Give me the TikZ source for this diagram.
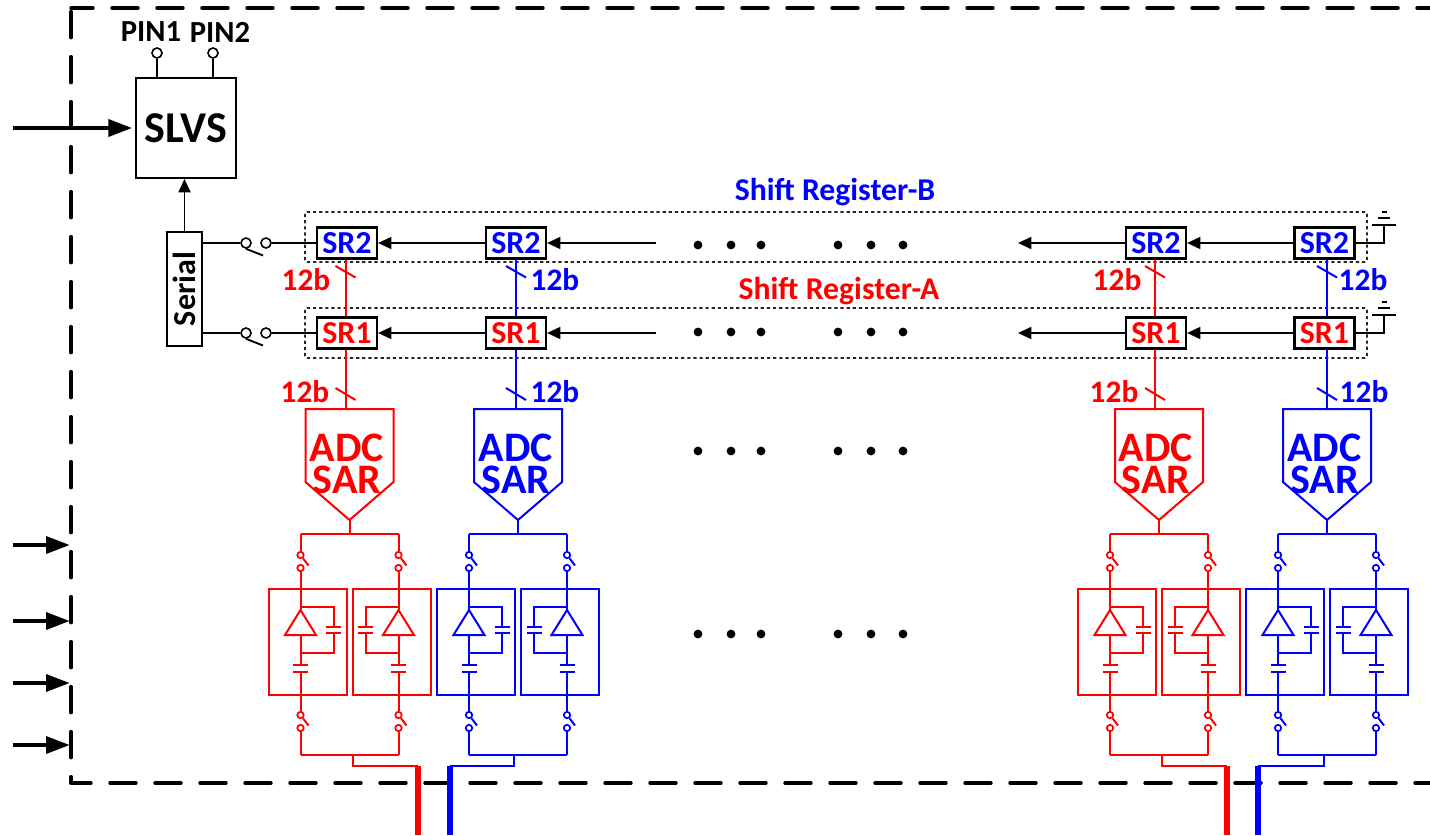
\documentclass[tikz,border=0pt]{standalone}
\usepackage{fontspec}
\setmainfont{Carlito}
\usetikzlibrary{arrows.meta,positioning,calc}
\tikzset{
  blockBox/.style={draw=black, line width=1.5pt, inner sep=0pt, align=center,
    font=\fontsize{33}{35}\selectfont\bfseries},
  srBox/.style={draw=black, line width=1.6pt, fill=white, inner sep=0pt,
    minimum width=45pt, minimum height=23.25pt,
    font=\fontsize{24}{26}\selectfont\bfseries},
  regFrame/.style={draw=black!85, line width=1.3pt, dash pattern=on 2.4pt off 2.2pt,
    rounded corners=1.5pt, inner sep=0pt, minimum width=796.5pt, minimum height=37.5pt},
  ampBox/.style={draw, line width=1.5pt, inner sep=0pt, minimum width=58.5pt, minimum height=79.5pt},
  %% Labels
  busLabel/.style={inner sep=0pt, font=\fontsize{23.5}{26}\selectfont\bfseries},
  pinLabel/.style={inner sep=0pt, text=black, font=\fontsize{23}{25}\selectfont\bfseries},
  regLabel/.style={inner sep=0pt, font=\fontsize{23.8}{26}\selectfont\bfseries},
  adcLabel/.style={inner sep=0pt, align=center, font=\fontsize{31.5}{24}\selectfont\bfseries},
  %% Terminals of the switches
  pinDot/.style={circle, draw=black, line width=1.2pt, fill=white, inner sep=0pt, minimum size=7.5pt},
  swDot/.style={circle, draw, line width=1.3pt, fill=white, inner sep=0pt, minimum size=4.8pt},
  %% Lines
  sdwire/.style={line width=1.4pt},
  chwire/.style={line width=1.5pt},
  outwire/.style={line width=3.9pt},
  frameLine/.style={line width=2.6pt, line cap=round, dash pattern=on 19.5pt off 14.25pt},
  inarrow/.style={line width=3.3pt, -{Triangle[length=18pt,width=12.5pt]}},
  sdarrow/.style={line width=1.4pt, -{Triangle[length=10pt,width=9pt]}},
}
\begin{document}
\begin{tikzpicture}[x=0.75pt, y=-0.75pt]
\useasboundingbox (0,0) rectangle (1430,835);

%% Chip boundary
\coordinate (fTR) at (1430,8);
\coordinate (fTL) at (71,8);
\coordinate (fBL) at (71,783);
\coordinate (fBR) at (1430,783);
\draw[frameLine, dash phase=9.75pt] (fTR) -- (fTL);
\draw[frameLine, dash phase=31pt] (fTL) -- (fBL);
\draw[frameLine, dash phase=4.5pt] (fBL) -- (fBR);

%% Readout blocks
\node[blockBox, minimum width=75pt, minimum height=75pt] (pSLVS) at (186,128) {SLVS};
\node[pinDot] (pinA) at (157,53) {};
\node[pinDot] (pinB) at (213,53) {};
\node[pinLabel] (pinTextA) at (151,32) {PIN1};
\node[pinLabel] (pinTextB) at (220,32) {PIN2};
\draw[sdwire] (pinA) -- (pinA |- pSLVS.north);
\draw[sdwire] (pinB) -- (pinB |- pSLVS.north);
\node[blockBox, rotate=90, minimum width=85.5pt, minimum height=26.25pt,
  font=\fontsize{24}{26}\selectfont\bfseries] (pSerial) at (184.5,289) {Serial};
\draw[sdarrow] (pSerial.east) -- (pSerial.east |- pSLVS.south);

%% Inputs from the left
\coordinate (inS) at (13,128);
\draw[inarrow, shorten >=2pt] (inS) -- (pSLVS.west);
\foreach \n/\y in {1/545, 2/621, 3/683, 4/745} {
  \coordinate (inL\n) at (13,\y);
  \coordinate (inR\n) at (70,\y);
  \draw[inarrow] (inL\n) -- (inR\n);
}

%% Shift registers
\node[regFrame] (frameB) at (836,237) {};
\node[regFrame] (frameA) at (836,333) {};
\node[regLabel, text=blue] (titleB) at (835,192) {Shift Register-B};
\node[regLabel, text=red] (titleA) at (839,291) {Shift Register-A};
\foreach \n/\x in {1/347, 2/516, 3/1156, 4/1324.5} {
  \node[srBox, text=blue] (srB\n) at (\x,243) {SR2};
  \node[srBox, text=red]  (srA\n) at (\x,333) {SR1};
}
\foreach \r/\y/\h in {B/243/225, A/333/315} {
  \coordinate (gap\r L) at (656,\y);
  \coordinate (gap\r R) at (1018,\y);
  \draw[sdarrow] (sr\r2) -- (sr\r1);
  \draw[sdarrow] (gap\r L) -- (sr\r2);
  \draw[sdarrow] (sr\r3) -- (gap\r R);
  \draw[sdarrow] (sr\r4) -- (sr\r3);
  %% Ground
  \coordinate (gnd\r) at (1384,\h);
  \draw[sdwire] (sr\r4.east) -| (gnd\r);
  \draw[sdwire] ($(gnd\r)+(-12,0)$) -- ($(gnd\r)+(12,0)$);
  \draw[sdwire] ($(gnd\r)+(-6,-7)$) -- ($(gnd\r)+(6,-7)$);
  \draw[sdwire] ($(gnd\r)+(-2.5,-13)$) -- ($(gnd\r)+(2.5,-13)$);
}

%% Output switches to the serializer
\foreach \r/\y in {B/243, A/333} {
  \node[pinDot] (swL\r) at (246,\y) {};
  \node[pinDot] (swR\r) at (266,\y) {};
  \coordinate (swE\r) at (263,\y+12.5);
  \draw[sdwire] (pSerial.south |- swL\r) -- (swL\r);
  \draw[sdwire] (swR\r) -- (sr\r1);
  \draw[sdwire] (swL\r.south) -- (swE\r);
}

%% Channels
\foreach \n/\cc/\cw/\tap/\out/\clr/\lbU/\lbL in {
    1/349.5/345.5/353/418/red/306/305,
    2/518/516/514/450/blue/555/555,
    3/1159/1155/1162/1227/red/1117/1114,
    4/1327/1327/1324/1258/blue/1363/1364} {
\begin{scope}[color=\clr]
  \coordinate (adcTop\n) at (\cw,409);
  \coordinate (adcTip\n) at (\cc,520);
  \draw[chwire] (\cc-44,409) -- (\cc+44,409) -- (\cc+44,482) -- (adcTip\n) -- (\cc-44,482) -- cycle;
  \node[adcLabel, text=\clr] (adc\n) at (srA\n |- 0,464) {ADC\\SAR};
  \draw[chwire] (srB\n.south -| adcTop\n) -- (srA\n.north -| adcTop\n);
  \draw[chwire] (srA\n.south -| adcTop\n) -- (adcTop\n);
  \draw[chwire] (\cw-10,266) -- (\cw+10,277.5);
  \draw[chwire] (\cw-10,388) -- (\cw+10,400);
  \node[busLabel, text=\clr] (bitsU\n) at (\lbU,280) {12b};
  \node[busLabel, text=\clr] (bitsL\n) at (\lbL,391.5) {12b};
  %% Bus above and below the two cells
  \coordinate (busT\n) at (\cc,534);
  \coordinate (busB\n) at (\tap,755);
  \coordinate (bend\n) at (\out,766);
  \coordinate (exit\n) at (\out,835);
  \draw[chwire] (adcTip\n) -- (busT\n);
  \draw[chwire] (\cc-49,534) -- (\cc+49,534);
  \draw[chwire] (\cc-49,755) -- (\cc+49,755);
  \draw[chwire] (busB\n) |- (bend\n);
  \draw[outwire] (bend\n) -- (exit\n);
  %% Two pixel cells
  \foreach \s/\d in {a/1, b/-1} {
    \pgfmathsetmacro{\xx}{\cc-\d*49}
    \node[ampBox] (cell\n\s) at (\xx+\d*7,642) {};
    \node[swDot] (swT\n\s) at (\xx,555) {};
    \node[swDot] (swM\n\s) at (\xx,568) {};
    \node[swDot] (swN\n\s) at (\xx,715) {};
    \node[swDot] (swK\n\s) at (\xx,728) {};
    \coordinate (amp\n\s) at (\xx,610);
    \coordinate (base\n\s) at (\xx,635);
    \draw[chwire] (\xx,534) -- (swT\n\s);
    \draw[chwire] (swT\n\s) -- ++(8,10.5);
    \draw[chwire] (swM\n\s) -- (amp\n\s);
    \draw[chwire] (\xx-15.5,635) -- (amp\n\s) -- (\xx+15.5,635) -- cycle;
    %% Feedback capacitor
    \draw[chwire] (\xx,607) -| (\xx+\d*33,627);
    \draw[chwire] (\xx+\d*33-7.5,627) -- (\xx+\d*33+7.5,627);
    \draw[chwire] (\xx+\d*33-7.5,633) -- (\xx+\d*33+7.5,633);
    \draw[chwire] (\xx+\d*33,633) |- (\xx,653);
    %% Series capacitor
    \draw[chwire] (base\n\s) -- (\xx,665);
    \draw[chwire] (\xx-7.5,665) -- (\xx+7.5,665);
    \draw[chwire] (\xx-7.5,672) -- (\xx+7.5,672);
    \draw[chwire] (\xx,672) -- (swN\n\s);
    \draw[chwire] (swN\n\s) -- ++(8,10.5);
    \draw[chwire] (swK\n\s) -- (\xx,755);
  }
\end{scope}
}

%% Repeated columns
\foreach \y in {245, 332, 451, 634}
  \foreach \x in {698, 731, 761, 838, 871, 903}
    \fill[black] (\x,\y) circle (3.3pt);

\end{tikzpicture}
\end{document}
